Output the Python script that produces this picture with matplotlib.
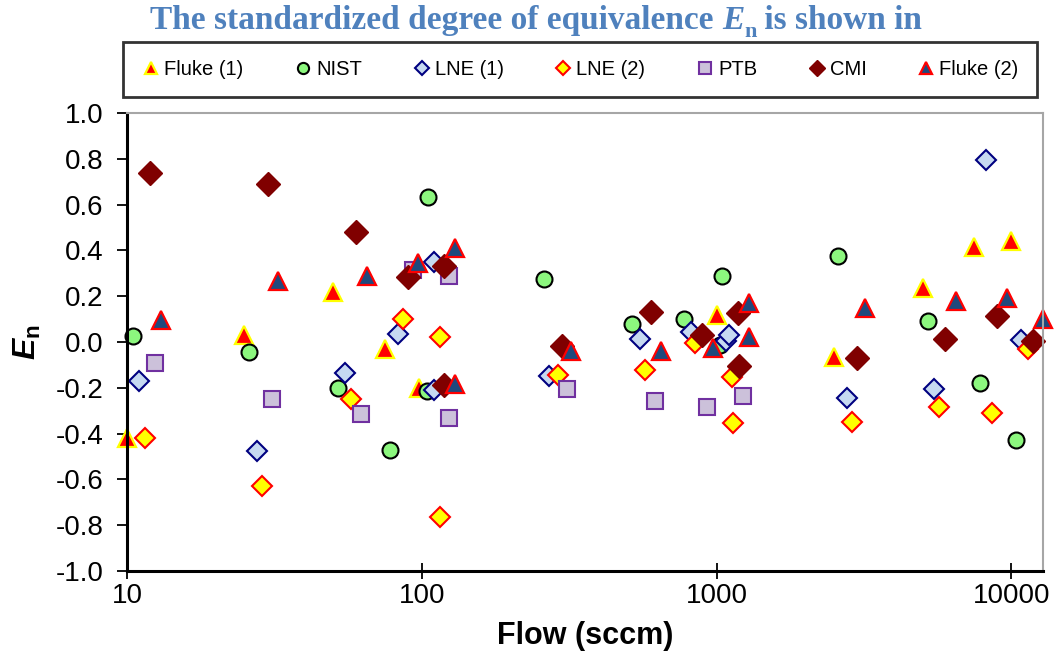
import matplotlib
matplotlib.use('Agg')
import matplotlib.pyplot as plt
from matplotlib.ticker import NullLocator, FormatStrFormatter

# values
fluke1_x = [10, 25, 50, 75, 98, 1000, 2500, 5000, 7450, 10000]
fluke1_y = [-0.42, 0.03, 0.22, -0.03, -0.20, 0.12, -0.065, 0.235, 0.415, 0.44]

nist_x = [10.5, 26, 52, 78, 104, 105, 260, 516, 775, 1040, 1030, 2590, 5200, 7830, 10340]
nist_y = [0.025, -0.045, -0.20, -0.47, -0.215, 0.635, 0.275, 0.08, 0.10, 0.29, -0.015, 0.375, 0.093, -0.18, -0.43]

lne1_x = [11, 27.5, 55, 83, 110, 110, 270, 550, 820, 1080, 1100, 2760, 5460, 8200, 10780]
lne1_y = [-0.17, -0.475, -0.137, 0.035, -0.21, 0.35, -0.15, 0.012, 0.045, 0.006, 0.03, -0.245, -0.207, 0.795, 0.01]

lne2_x = [11.5, 28.6, 57.5, 86.5, 115, 115, 289, 573, 845, 1125, 1140, 2870, 5700, 8570, 11350]
lne2_y = [-0.42, -0.63, -0.25, 0.10, 0.02, -0.765, -0.145, -0.122, -0.005, -0.155, -0.355, -0.348, -0.285, -0.31, -0.03]

ptb_x = [12.4, 31, 62, 93.5, 124, 124, 312, 620, 930, 1232]
ptb_y = [-0.093, -0.25, -0.315, 0.315, 0.29, -0.33, -0.205, -0.258, -0.282, -0.236]

cmi_x = [12, 30, 60, 90, 119, 119, 298, 597, 890, 1185, 1195, 2985, 5960, 8915, 11850]
cmi_y = [0.74, 0.69, 0.48, 0.285, 0.333, -0.188, -0.016, 0.13, 0.03, 0.125, -0.104, -0.071, 0.012, 0.114, 0.003]

fluke2_x = [13, 32.5, 65, 97, 130, 130, 320, 650, 975, 1290, 1290, 3200, 6470, 9700, 12800]
fluke2_y = [0.095, 0.265, 0.29, 0.345, 0.41, -0.185, -0.04, -0.04, -0.025, 0.17, 0.02, 0.147, 0.18, 0.19, 0.10]

series_labels = ['Fluke (1)', 'NIST', 'LNE (1)', 'LNE (2)', 'PTB', 'CMI', 'Fluke (2)']
x_ticks = [10, 100, 1000, 10000]
x_tick_labels = ['10', '100', '1000', '10000']
y_ticks = [-1.0, -0.8, -0.6, -0.4, -0.2, 0.0, 0.2, 0.4, 0.6, 0.8, 1.0]

# marker, size, face, edge, edge width
styles = [
    ('^', 12.5, '#FF0000', '#FFFF00', 1.6),
    ('o', 11.5, '#8CF77E', '#000000', 1.5),
    ('D', 10.5, '#C6D9F1', '#000080', 1.5),
    ('D', 10.5, '#FFFF00', '#FF0000', 1.5),
    ('s', 11.5, '#CCC1DA', '#7030A0', 1.5),
    ('D', 12.0, '#800000', '#800000', 1.0),
    ('^', 12.5, '#1F497D', '#FF0000', 1.6),
]

plt.rcParams['font.family'] = 'Liberation Sans'
plt.rcParams['mathtext.fontset'] = 'custom'
plt.rcParams['mathtext.it'] = 'Liberation Sans:italic:bold'
plt.rcParams['mathtext.rm'] = 'Liberation Sans:bold'

fig = plt.figure(figsize=(10.54, 6.58), dpi=100)
ax = fig.add_axes([0.1205, 0.1322, 0.8695, 0.6961])

all_x = [fluke1_x, nist_x, lne1_x, lne2_x, ptb_x, cmi_x, fluke2_x]
all_y = [fluke1_y, nist_y, lne1_y, lne2_y, ptb_y, cmi_y, fluke2_y]
handles = []
for xs, ys, label, (m, ms, fc, ec, ew) in zip(all_x, all_y, series_labels, styles):
    h, = ax.plot(xs, ys, linestyle='none', marker=m, markersize=ms,
                 markerfacecolor=fc, markeredgecolor=ec, markeredgewidth=ew,
                 label=label, clip_on=False)
    handles.append(h)

ax.set_xscale('log')
ax.set_xlim(10, 12850)
ax.set_ylim(-1.0, 1.0)
ax.set_xticks(x_ticks, labels=x_tick_labels)
ax.xaxis.set_minor_locator(NullLocator())
ax.set_yticks(y_ticks)
ax.yaxis.set_major_formatter(FormatStrFormatter('%.1f'))
ax.tick_params(axis='x', direction='inout', length=11, width=1.3, labelsize=20, pad=3)
ax.tick_params(axis='y', direction='out', length=7, width=1.3, labelsize=20, pad=10)

for side in ['left', 'bottom']:
    ax.spines[side].set_linewidth(2.2)
    ax.spines[side].set_color('black')
for side in ['top', 'right']:
    ax.spines[side].set_linewidth(1.5)
    ax.spines[side].set_color('#A6A6A6')

ax.set_xlabel('Flow (sccm)', fontsize=22, fontweight='bold', labelpad=9)
ax.set_ylabel(r'$E_{\mathrm{n}}$', fontsize=23, labelpad=9)

leg = ax.legend(handles, series_labels, loc='center',
                bbox_to_anchor=(0.1167, 0.853, 0.867, 0.083),
                bbox_transform=fig.transFigure, mode='expand', ncol=7,
                fontsize=14.5, frameon=True, fancybox=False, edgecolor='black',
                borderpad=0.9, borderaxespad=0, handletextpad=0.15, handlelength=1.0,
                markerscale=0.7, columnspacing=1.0)
leg.get_frame().set_linewidth(2)

# title with bold-italic E and subscript n
title_kw = dict(family='Liberation Serif', fontweight='bold', fontsize=24, color='#4F81BD')
t1 = fig.text(150 / 1054, 1 - 29 / 658, 'The standardized degree of equivalence ',
              va='baseline', ha='left', **title_kw)
t2 = ax.annotate('E', xy=(1, 0), xycoords=t1, va='bottom', ha='left',
                 fontstyle='italic', annotation_clip=False, **title_kw)
sub_kw = dict(title_kw, fontsize=16)
t3 = ax.annotate('n', xy=(1, 0), xycoords=t2, xytext=(0, -4), textcoords='offset points',
                 va='bottom', ha='left', annotation_clip=False, **sub_kw)
ax.annotate(' is shown in', xy=(1, 0), xycoords=t3, xytext=(0, 4), textcoords='offset points',
            va='bottom', ha='left', annotation_clip=False, **title_kw)

fig.savefig('out.png', dpi=100)
